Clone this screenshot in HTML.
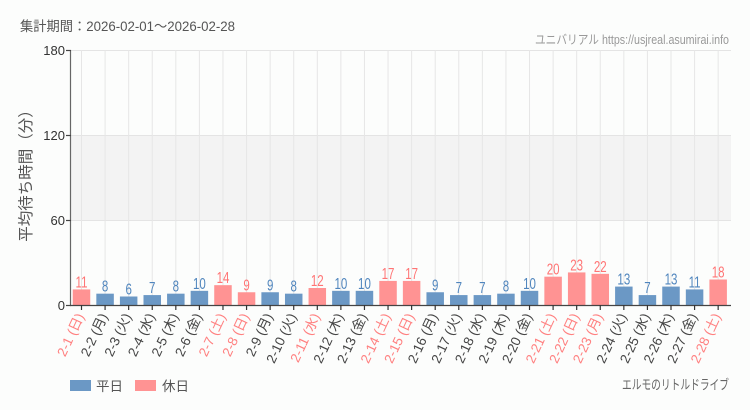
<!DOCTYPE html>
<html><head><meta charset="utf-8"><style>
html,body{margin:0;padding:0;background:#fcfdfc;}
svg{display:block;font-family:"Liberation Sans","Noto Sans CJK JP",sans-serif;}
.vl{font-size:16px;text-anchor:middle;}
.vb{fill:#4f85bd;}
.vp{fill:#ff7474;}
.xl{font-size:13.5px;text-anchor:end;}
.xw{fill:#444;}
.xh{fill:#ff7f7f;}
.bb{fill:#6b98c5;}
.bp{fill:#ff9393;}
</style></head><body>
<svg width="750" height="410" viewBox="0 0 750 410" xmlns="http://www.w3.org/2000/svg">
<rect x="0" y="0" width="750" height="410" fill="#fcfdfc"/>
<text x="20" y="31" font-size="13.5" fill="#555" textLength="215" lengthAdjust="spacingAndGlyphs">集計期間：2026-02-01～2026-02-28</text>
<text x="535" y="44" font-size="12.5" fill="#999" textLength="194" lengthAdjust="spacingAndGlyphs">ユニバリアル https://usjreal.asumirai.info</text>
<rect x="71" y="135" width="660" height="85" fill="#f3f3f3"/>
<g stroke="#e4e4e4" stroke-width="1">
<line x1="71" y1="50.5" x2="731" y2="50.5"/>
<line x1="71" y1="135.5" x2="731" y2="135.5"/>
<line x1="71" y1="220.5" x2="731" y2="220.5"/>
</g>
<g stroke="#e6e6e6" stroke-width="1">
<line x1="81.5" y1="50" x2="81.5" y2="305"/>
<line x1="105.08" y1="50" x2="105.08" y2="305"/>
<line x1="128.66" y1="50" x2="128.66" y2="305"/>
<line x1="152.24" y1="50" x2="152.24" y2="305"/>
<line x1="175.82" y1="50" x2="175.82" y2="305"/>
<line x1="199.4" y1="50" x2="199.4" y2="305"/>
<line x1="222.98" y1="50" x2="222.98" y2="305"/>
<line x1="246.56" y1="50" x2="246.56" y2="305"/>
<line x1="270.14" y1="50" x2="270.14" y2="305"/>
<line x1="293.72" y1="50" x2="293.72" y2="305"/>
<line x1="317.3" y1="50" x2="317.3" y2="305"/>
<line x1="340.88" y1="50" x2="340.88" y2="305"/>
<line x1="364.46" y1="50" x2="364.46" y2="305"/>
<line x1="388.04" y1="50" x2="388.04" y2="305"/>
<line x1="411.62" y1="50" x2="411.62" y2="305"/>
<line x1="435.2" y1="50" x2="435.2" y2="305"/>
<line x1="458.78" y1="50" x2="458.78" y2="305"/>
<line x1="482.36" y1="50" x2="482.36" y2="305"/>
<line x1="505.94" y1="50" x2="505.94" y2="305"/>
<line x1="529.52" y1="50" x2="529.52" y2="305"/>
<line x1="553.1" y1="50" x2="553.1" y2="305"/>
<line x1="576.68" y1="50" x2="576.68" y2="305"/>
<line x1="600.26" y1="50" x2="600.26" y2="305"/>
<line x1="623.84" y1="50" x2="623.84" y2="305"/>
<line x1="647.42" y1="50" x2="647.42" y2="305"/>
<line x1="671" y1="50" x2="671" y2="305"/>
<line x1="694.58" y1="50" x2="694.58" y2="305"/>
<line x1="718.16" y1="50" x2="718.16" y2="305"/>
</g>
<rect class="bp" x="72.75" y="289.42" width="17.5" height="15.58"/>
<rect class="bb" x="96.33" y="293.67" width="17.5" height="11.33"/>
<rect class="bb" x="119.91" y="296.5" width="17.5" height="8.5"/>
<rect class="bb" x="143.49" y="295.08" width="17.5" height="9.92"/>
<rect class="bb" x="167.07" y="293.67" width="17.5" height="11.33"/>
<rect class="bb" x="190.65" y="290.83" width="17.5" height="14.17"/>
<rect class="bp" x="214.23" y="285.17" width="17.5" height="19.83"/>
<rect class="bp" x="237.81" y="292.25" width="17.5" height="12.75"/>
<rect class="bb" x="261.39" y="292.25" width="17.5" height="12.75"/>
<rect class="bb" x="284.97" y="293.67" width="17.5" height="11.33"/>
<rect class="bp" x="308.55" y="288" width="17.5" height="17"/>
<rect class="bb" x="332.13" y="290.83" width="17.5" height="14.17"/>
<rect class="bb" x="355.71" y="290.83" width="17.5" height="14.17"/>
<rect class="bp" x="379.29" y="280.92" width="17.5" height="24.08"/>
<rect class="bp" x="402.87" y="280.92" width="17.5" height="24.08"/>
<rect class="bb" x="426.45" y="292.25" width="17.5" height="12.75"/>
<rect class="bb" x="450.03" y="295.08" width="17.5" height="9.92"/>
<rect class="bb" x="473.61" y="295.08" width="17.5" height="9.92"/>
<rect class="bb" x="497.19" y="293.67" width="17.5" height="11.33"/>
<rect class="bb" x="520.77" y="290.83" width="17.5" height="14.17"/>
<rect class="bp" x="544.35" y="276.67" width="17.5" height="28.33"/>
<rect class="bp" x="567.93" y="272.42" width="17.5" height="32.58"/>
<rect class="bp" x="591.51" y="273.83" width="17.5" height="31.17"/>
<rect class="bb" x="615.09" y="286.58" width="17.5" height="18.42"/>
<rect class="bb" x="638.67" y="295.08" width="17.5" height="9.92"/>
<rect class="bb" x="662.25" y="286.58" width="17.5" height="18.42"/>
<rect class="bb" x="685.83" y="289.42" width="17.5" height="15.58"/>
<rect class="bp" x="709.41" y="279.5" width="17.5" height="25.5"/>
<text class="vl vp" transform="translate(81.5,287.4) scale(0.72,1)">11</text>
<text class="vl vb" transform="translate(105.08,291.7) scale(0.72,1)">8</text>
<text class="vl vb" transform="translate(128.66,294.5) scale(0.72,1)">6</text>
<text class="vl vb" transform="translate(152.24,293.1) scale(0.72,1)">7</text>
<text class="vl vb" transform="translate(175.82,291.7) scale(0.72,1)">8</text>
<text class="vl vb" transform="translate(199.4,288.8) scale(0.72,1)">10</text>
<text class="vl vp" transform="translate(222.98,283.2) scale(0.72,1)">14</text>
<text class="vl vp" transform="translate(246.56,290.3) scale(0.72,1)">9</text>
<text class="vl vb" transform="translate(270.14,290.3) scale(0.72,1)">9</text>
<text class="vl vb" transform="translate(293.72,291.7) scale(0.72,1)">8</text>
<text class="vl vp" transform="translate(317.3,286) scale(0.72,1)">12</text>
<text class="vl vb" transform="translate(340.88,288.8) scale(0.72,1)">10</text>
<text class="vl vb" transform="translate(364.46,288.8) scale(0.72,1)">10</text>
<text class="vl vp" transform="translate(388.04,278.9) scale(0.72,1)">17</text>
<text class="vl vp" transform="translate(411.62,278.9) scale(0.72,1)">17</text>
<text class="vl vb" transform="translate(435.2,290.3) scale(0.72,1)">9</text>
<text class="vl vb" transform="translate(458.78,293.1) scale(0.72,1)">7</text>
<text class="vl vb" transform="translate(482.36,293.1) scale(0.72,1)">7</text>
<text class="vl vb" transform="translate(505.94,291.7) scale(0.72,1)">8</text>
<text class="vl vb" transform="translate(529.52,288.8) scale(0.72,1)">10</text>
<text class="vl vp" transform="translate(553.1,274.7) scale(0.72,1)">20</text>
<text class="vl vp" transform="translate(576.68,270.4) scale(0.72,1)">23</text>
<text class="vl vp" transform="translate(600.26,271.8) scale(0.72,1)">22</text>
<text class="vl vb" transform="translate(623.84,284.6) scale(0.72,1)">13</text>
<text class="vl vb" transform="translate(647.42,293.1) scale(0.72,1)">7</text>
<text class="vl vb" transform="translate(671,284.6) scale(0.72,1)">13</text>
<text class="vl vb" transform="translate(694.58,287.4) scale(0.72,1)">11</text>
<text class="vl vp" transform="translate(718.16,277.5) scale(0.72,1)">18</text>
<line x1="70.5" y1="50" x2="70.5" y2="306" stroke="#666" stroke-width="1.2"/>
<g stroke="#444" stroke-width="1.2">
<line x1="66" y1="50.5" x2="71" y2="50.5"/>
<line x1="66" y1="135.5" x2="71" y2="135.5"/>
<line x1="66" y1="220.5" x2="71" y2="220.5"/>
<line x1="66" y1="305.5" x2="71" y2="305.5"/>
</g>
<line x1="70" y1="305.5" x2="731" y2="305.5" stroke="#444" stroke-width="1.3"/>
<g stroke="#333" stroke-width="1.2">
<line x1="81.5" y1="305" x2="81.5" y2="310"/>
<line x1="105.08" y1="305" x2="105.08" y2="310"/>
<line x1="128.66" y1="305" x2="128.66" y2="310"/>
<line x1="152.24" y1="305" x2="152.24" y2="310"/>
<line x1="175.82" y1="305" x2="175.82" y2="310"/>
<line x1="199.4" y1="305" x2="199.4" y2="310"/>
<line x1="222.98" y1="305" x2="222.98" y2="310"/>
<line x1="246.56" y1="305" x2="246.56" y2="310"/>
<line x1="270.14" y1="305" x2="270.14" y2="310"/>
<line x1="293.72" y1="305" x2="293.72" y2="310"/>
<line x1="317.3" y1="305" x2="317.3" y2="310"/>
<line x1="340.88" y1="305" x2="340.88" y2="310"/>
<line x1="364.46" y1="305" x2="364.46" y2="310"/>
<line x1="388.04" y1="305" x2="388.04" y2="310"/>
<line x1="411.62" y1="305" x2="411.62" y2="310"/>
<line x1="435.2" y1="305" x2="435.2" y2="310"/>
<line x1="458.78" y1="305" x2="458.78" y2="310"/>
<line x1="482.36" y1="305" x2="482.36" y2="310"/>
<line x1="505.94" y1="305" x2="505.94" y2="310"/>
<line x1="529.52" y1="305" x2="529.52" y2="310"/>
<line x1="553.1" y1="305" x2="553.1" y2="310"/>
<line x1="576.68" y1="305" x2="576.68" y2="310"/>
<line x1="600.26" y1="305" x2="600.26" y2="310"/>
<line x1="623.84" y1="305" x2="623.84" y2="310"/>
<line x1="647.42" y1="305" x2="647.42" y2="310"/>
<line x1="671" y1="305" x2="671" y2="310"/>
<line x1="694.58" y1="305" x2="694.58" y2="310"/>
<line x1="718.16" y1="305" x2="718.16" y2="310"/>
</g>
<g font-size="13" fill="#333" text-anchor="end">
<text x="65" y="55">180</text>
<text x="65" y="140">120</text>
<text x="65" y="225">60</text>
<text x="65" y="310">0</text>
</g>
<text transform="translate(31,172) rotate(-90)" font-size="15.5" fill="#555" text-anchor="middle">平均待ち時間（分）</text>
<text class="xl xh" transform="translate(84.5,316) rotate(-65)">2-1 (日)</text>
<text class="xl xw" transform="translate(108.08,316) rotate(-65)">2-2 (月)</text>
<text class="xl xw" transform="translate(131.66,316) rotate(-65)">2-3 (火)</text>
<text class="xl xw" transform="translate(155.24,316) rotate(-65)">2-4 (水)</text>
<text class="xl xw" transform="translate(178.82,316) rotate(-65)">2-5 (木)</text>
<text class="xl xw" transform="translate(202.4,316) rotate(-65)">2-6 (金)</text>
<text class="xl xh" transform="translate(225.98,316) rotate(-65)">2-7 (土)</text>
<text class="xl xh" transform="translate(249.56,316) rotate(-65)">2-8 (日)</text>
<text class="xl xw" transform="translate(273.14,316) rotate(-65)">2-9 (月)</text>
<text class="xl xw" transform="translate(296.72,316) rotate(-65)">2-10 (火)</text>
<text class="xl xh" transform="translate(320.3,316) rotate(-65)">2-11 (水)</text>
<text class="xl xw" transform="translate(343.88,316) rotate(-65)">2-12 (木)</text>
<text class="xl xw" transform="translate(367.46,316) rotate(-65)">2-13 (金)</text>
<text class="xl xh" transform="translate(391.04,316) rotate(-65)">2-14 (土)</text>
<text class="xl xh" transform="translate(414.62,316) rotate(-65)">2-15 (日)</text>
<text class="xl xw" transform="translate(438.2,316) rotate(-65)">2-16 (月)</text>
<text class="xl xw" transform="translate(461.78,316) rotate(-65)">2-17 (火)</text>
<text class="xl xw" transform="translate(485.36,316) rotate(-65)">2-18 (水)</text>
<text class="xl xw" transform="translate(508.94,316) rotate(-65)">2-19 (木)</text>
<text class="xl xw" transform="translate(532.52,316) rotate(-65)">2-20 (金)</text>
<text class="xl xh" transform="translate(556.1,316) rotate(-65)">2-21 (土)</text>
<text class="xl xh" transform="translate(579.68,316) rotate(-65)">2-22 (日)</text>
<text class="xl xh" transform="translate(603.26,316) rotate(-65)">2-23 (月)</text>
<text class="xl xw" transform="translate(626.84,316) rotate(-65)">2-24 (火)</text>
<text class="xl xw" transform="translate(650.42,316) rotate(-65)">2-25 (水)</text>
<text class="xl xw" transform="translate(674,316) rotate(-65)">2-26 (木)</text>
<text class="xl xw" transform="translate(697.58,316) rotate(-65)">2-27 (金)</text>
<text class="xl xh" transform="translate(721.16,316) rotate(-65)">2-28 (土)</text>
<rect x="70" y="380" width="21" height="11" fill="#6b98c5"/>
<text x="96" y="391" font-size="13.5" fill="#555">平日</text>
<rect x="135" y="380" width="21" height="11" fill="#ff9393"/>
<text x="162" y="391" font-size="13.5" fill="#555">休日</text>
<text x="622" y="389.5" font-size="13.5" fill="#666" textLength="107" lengthAdjust="spacingAndGlyphs">エルモのリトルドライブ</text>
</svg>
</body></html>
